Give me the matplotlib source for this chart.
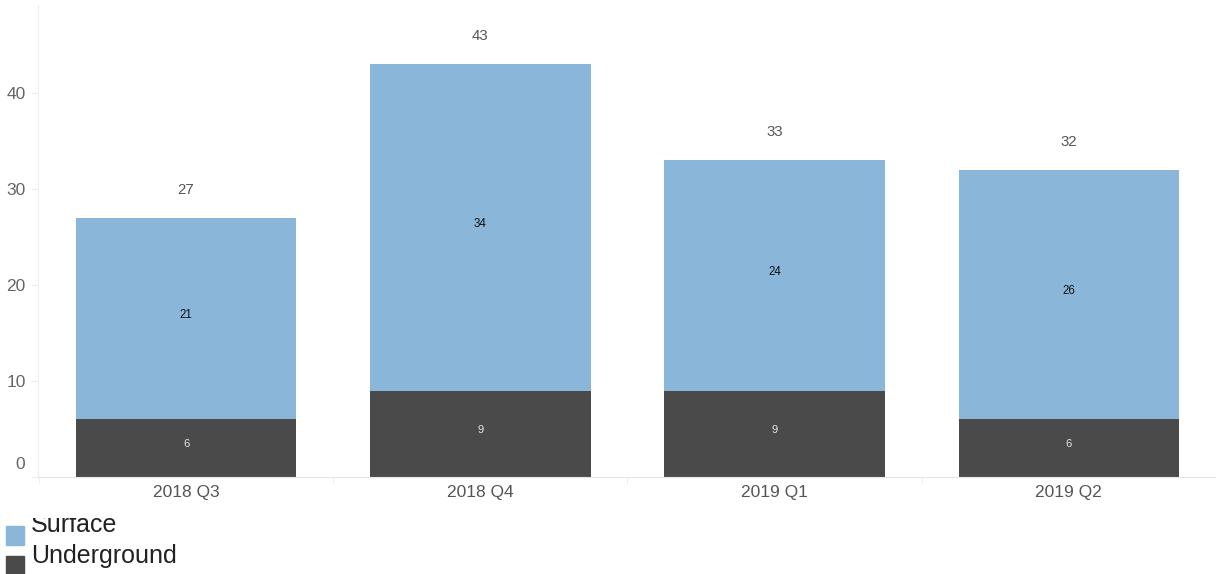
import matplotlib.pyplot as plt
from matplotlib.patches import Rectangle
from matplotlib.transforms import Bbox, TransformedBbox, ScaledTranslation

quarters = ["2018 Q3", "2018 Q4", "2019 Q1", "2019 Q2"]
underground = [6, 9, 9, 6]
surface = [21, 34, 24, 26]
totals = [u + s for u, s in zip(underground, surface)]

blue = "#8ab7d9"
dark = "#4a4a4a"

plt.rcParams['font.family'] = ['Liberation Sans', 'DejaVu Sans']

fig = plt.figure(figsize=(12.16, 5.74), dpi=100)
W, H = 1216, 574
# axes box in pixels: left 38, top 5, bottom 477
ax = fig.add_axes([38 / W, (H - 477) / H, 1 - 38 / W, (477 - 5) / H])

x = range(len(quarters))
ax.bar(x, underground, width=0.75, color=dark)
ax.bar(x, surface, width=0.75, bottom=underground, color=blue)

# labels in the segments and over the bars
for i in x:
    ax.text(i, underground[i] / 2 + 0.4, str(underground[i]), ha='center', va='center',
            fontsize=8, color='#e6e6e6')
    ax.text(i, underground[i] + surface[i] / 2 + 0.4, str(surface[i]), ha='center', va='center',
            fontsize=8.3, color='#111111')
    ax.text(i, totals[i] + 2.2, str(totals[i]), ha='center', va='bottom',
            fontsize=10.8, color='#555555')

ax.set_xlim(-0.503, 3.476)
ax.set_ylim(0, 49.2)

ax.set_yticks([0, 10, 20, 30, 40])
ax.set_xticks(list(x))
ax.set_xticklabels(quarters)
ax.set_xticks([-0.5, 0.5, 1.5, 2.5, 3.5], minor=True)

ax.tick_params(axis='y', length=5, color='#eeeeee', labelsize=12.5, labelcolor='#666666', pad=4)
ax.tick_params(axis='x', which='major', length=0, labelsize=12.5, labelcolor='#555555', pad=6)
ax.tick_params(axis='x', which='minor', length=5, color='#eeeeee')

# the 0 label sits above the baseline
lab0 = ax.get_yticklabels()[0]
lab0.set_va('bottom')
lab0.set_transform(lab0.get_transform() + ScaledTranslation(0, 5 / 100, fig.dpi_scale_trans))

for side in ['top', 'right']:
    ax.spines[side].set_visible(False)
ax.spines['left'].set_color('#eeeeee')
ax.spines['bottom'].set_color('#e6e6e6')

# legend drawn by hand, first entry cut at the top like in the original
fig.patches.append(Rectangle((6 / W, (H - 545) / H), 18 / W, 19 / H,
                             transform=fig.transFigure, color=blue))
fig.patches.append(Rectangle((6 / W, (H - 574) / H), 18 / W, 18 / H,
                             transform=fig.transFigure, color=dark))
t1 = fig.text(31 / W, (H - 532) / H, "Surface", fontsize=18, color='#222222',
              va='baseline')
clip = TransformedBbox(Bbox([[0, 0], [1, (H - 518) / H]]), fig.transFigure)
t1.set_clip_box(clip)
t1.set_clip_on(True)
fig.text(31 / W, (H - 563) / H, "Underground", fontsize=18, color='#222222', va='baseline')

fig.savefig("out.png", dpi=100)
